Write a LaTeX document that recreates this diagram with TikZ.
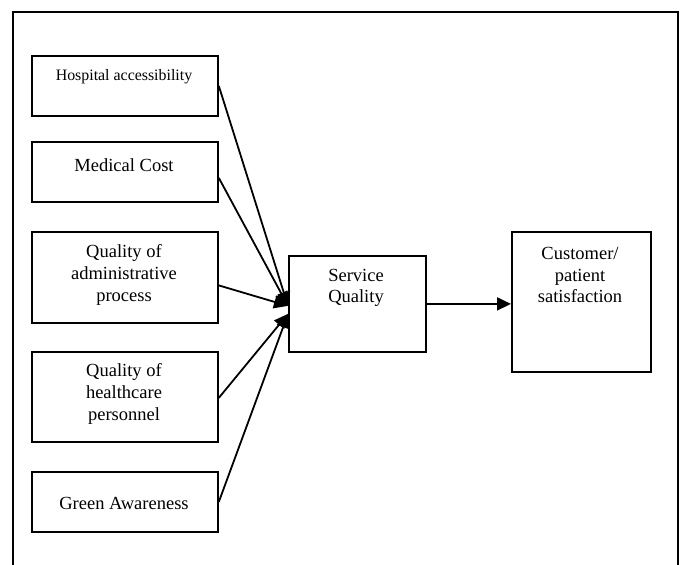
\documentclass[tikz,border=0pt]{standalone}
\usepackage{fontspec}
\setmainfont{Liberation Serif}
\usetikzlibrary{arrows.meta,calc}
\begin{document}
\begin{tikzpicture}[x=1pt,y=-1pt,
  box/.style={draw,line width=1.8pt,inner sep=0pt,anchor=north west},
  lbl/.style={align=center,inner sep=0pt,font=\fontsize{18.5}{21.7}\selectfont},
  slbl/.style={align=center,inner sep=0pt,font=\fontsize{15.9}{19}\selectfont},
  conn/.style={line width=1.8pt,-{Triangle[length=14pt,width=13pt]}}]
\useasboundingbox (0,0) rectangle (683,565);
\draw[line width=1.8pt] (13,565) -- (13,12) -- (678,12) -- (678,565);
% boxes
\node[box,minimum width=186pt,minimum height=60pt] (b1) at (31,55) {};
\node[box,minimum width=186pt,minimum height=60pt] (b2) at (31,141) {};
\node[box,minimum width=186pt,minimum height=91pt] (b3) at (31,231) {};
\node[box,minimum width=186pt,minimum height=90pt] (b4) at (31,351) {};
\node[box,minimum width=186pt,minimum height=60pt] (b5) at (31,471) {};
\node[box,minimum width=137pt,minimum height=96pt] (sq) at (288,255) {};
\node[box,minimum width=139pt,minimum height=140pt] (cp) at (511,231) {};
% texts
\node[slbl] (t1) at (124,77) {Hospital accessibility};
\node[lbl] (t2) at (124,165) {Medical Cost};
\node[lbl] (t3) at (124,275) {Quality of\\administrative\\process};
\node[lbl] (t4) at (124,394) {Quality of\\healthcare\\personnel};
\node[lbl] (t5) at (124,503) {Green Awareness};
\node[lbl] (tsq) at (356,288) {Service\\Quality};
\node[lbl] (tcp) at (580,275) {Customer/\\patient\\satisfaction};
% connectors
\coordinate (up) at ($(sq.west)+(0,2)$);
\coordinate (lo) at ($(sq.west)+(0,10)$);
\draw[conn] ($(b1.east)+(0,0)$) -- (up);
\draw[conn] ($(b2.east)+(0,6)$) -- (up);
\draw[conn] ($(b3.east)+(0,8)$) -- (up);
\draw[conn] ($(b4.east)+(0,1)$) -- (lo);
\draw[conn] (b5.east) -- (lo);
\draw[conn] (sq.east) -- (cp.west |- sq.east);
\end{tikzpicture}
\end{document}
